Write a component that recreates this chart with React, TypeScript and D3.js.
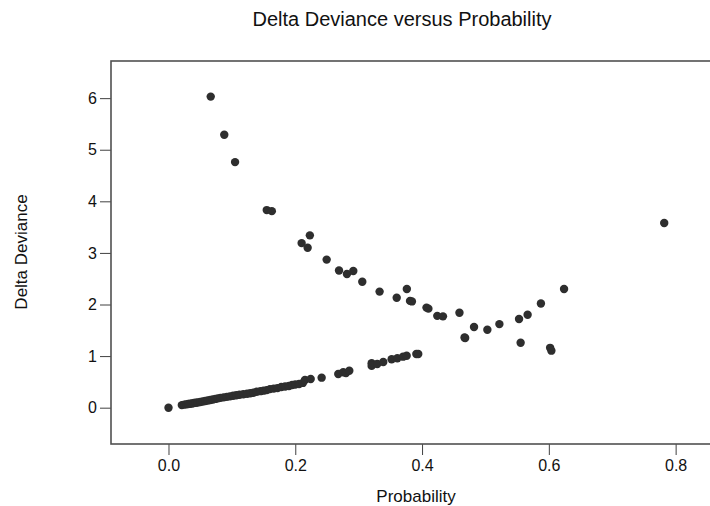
import React, { useRef, useEffect } from 'react';
import * as d3 from 'd3';

// observations with low fitted probability (lower branch)
const lowerProbability = [
  0.0, 0.021, 0.025, 0.028, 0.031, 0.034, 0.037, 0.04, 0.043, 0.046, 0.05,
  0.054, 0.058, 0.062, 0.066, 0.07, 0.074, 0.078, 0.082, 0.087, 0.092, 0.097,
  0.102, 0.107, 0.112, 0.118, 0.124, 0.129, 0.134, 0.139, 0.145, 0.15, 0.155,
  0.16, 0.166, 0.172, 0.178, 0.184, 0.19, 0.195, 0.2, 0.206, 0.212, 0.2153,
  0.2243, 0.2416, 0.2678, 0.2757, 0.28, 0.2852, 0.3205, 0.3205, 0.3293,
  0.3388, 0.352, 0.361, 0.37, 0.3757, 0.391, 0.394, 0.467, 0.468
];
const lowerDeviance = [
  0.0, 0.05, 0.06, 0.065, 0.07, 0.075, 0.08, 0.09, 0.095, 0.1, 0.11,
  0.12, 0.13, 0.14, 0.15, 0.16, 0.17, 0.18, 0.19, 0.2, 0.21, 0.22,
  0.23, 0.24, 0.25, 0.26, 0.27, 0.28, 0.29, 0.31, 0.32, 0.33, 0.34,
  0.36, 0.37, 0.38, 0.4, 0.41, 0.42, 0.44, 0.45, 0.46, 0.48, 0.537,
  0.557, 0.582, 0.653, 0.686, 0.67, 0.717, 0.861, 0.81, 0.847,
  0.886, 0.939, 0.958, 0.989, 1.008, 1.04, 1.04, 1.36, 1.35
];

// observations with high deviance (upper branch)
const upperProbability = [
  0.0666, 0.088, 0.105, 0.155, 0.163, 0.21, 0.2195, 0.223, 0.2495, 0.269,
  0.2815, 0.2915, 0.3057, 0.333, 0.36, 0.376, 0.381, 0.384, 0.407, 0.41,
  0.424, 0.433, 0.459, 0.482, 0.503, 0.522, 0.553, 0.5555, 0.5665, 0.5875,
  0.602, 0.604, 0.624, 0.782
];
const upperDeviance = [
  6.03, 5.29, 4.76, 3.83, 3.81, 3.19, 3.1, 3.34, 2.87, 2.66,
  2.59, 2.65, 2.44, 2.25, 2.13, 2.3, 2.07, 2.06, 1.94, 1.92,
  1.78, 1.77, 1.84, 1.565, 1.51, 1.62, 1.72, 1.26, 1.8, 2.02,
  1.16, 1.105, 2.3, 3.58
];

const xTicks = [0.0, 0.2, 0.4, 0.6, 0.8];
const yTicks = [0, 1, 2, 3, 4, 5, 6];

const W = 710;
const H = 506;
const frame = { left: 111, top: 61, bottom: 444, right: 720 };
const font = '"Liberation Sans", Arial, sans-serif';

function DevianceChart() {
  const ref = useRef<SVGSVGElement>(null);

  useEffect(() => {
    if (!ref.current) return;
    const svg = d3.select(ref.current);
    svg.selectAll('*').remove();

    const x = d3.scaleLinear().domain([-0.0907, 0.87]).range([frame.left, frame.right]);
    const y = d3.scaleLinear().domain([-0.704, 6.72]).range([frame.bottom, frame.top]);

    const pts = [
      ...lowerProbability.map((p, i) => ({ p, d: lowerDeviance[i] })),
      ...upperProbability.map((p, i) => ({ p, d: upperDeviance[i] }))
    ];

    // x axis
    const gx = svg.append('g')
      .attr('transform', `translate(0,${frame.bottom})`)
      .call(d3.axisBottom(x).tickValues(xTicks).tickFormat(d3.format('.1f')).tickSize(11).tickPadding(5));
    gx.select('.domain').remove();
    gx.selectAll('line').attr('stroke', '#404040');
    gx.selectAll('text').attr('font-size', 16).attr('font-family', font).attr('fill', '#111');

    // y axis
    const gy = svg.append('g')
      .attr('transform', `translate(${frame.left},0)`)
      .call(d3.axisLeft(y).tickValues(yTicks).tickFormat(d3.format('d')).tickSize(11).tickPadding(3));
    gy.select('.domain').remove();
    gy.selectAll('line').attr('stroke', '#404040');
    gy.selectAll('text').attr('font-size', 16).attr('font-family', font).attr('fill', '#111');

    // frame
    svg.append('rect')
      .attr('x', frame.left)
      .attr('y', frame.top)
      .attr('width', frame.right - frame.left)
      .attr('height', frame.bottom - frame.top)
      .attr('fill', 'none')
      .attr('stroke', '#505050')
      .attr('stroke-width', 1.6);

    svg.append('g')
      .selectAll('circle')
      .data(pts)
      .join('circle')
      .attr('cx', d => x(d.p))
      .attr('cy', d => y(d.d))
      .attr('r', 4.2)
      .attr('fill', '#2e2e2e');

    svg.append('text')
      .attr('x', 402)
      .attr('y', 26)
      .attr('text-anchor', 'middle')
      .attr('font-family', font)
      .attr('font-size', 20)
      .attr('fill', '#111')
      .text('Delta Deviance versus Probability');

    svg.append('text')
      .attr('x', 416)
      .attr('y', 502)
      .attr('text-anchor', 'middle')
      .attr('font-family', font)
      .attr('font-size', 17)
      .attr('fill', '#111')
      .text('Probability');

    svg.append('text')
      .attr('transform', 'translate(27,252) rotate(-90)')
      .attr('text-anchor', 'middle')
      .attr('font-family', font)
      .attr('font-size', 17)
      .attr('fill', '#111')
      .text('Delta Deviance');
  }, []);

  return (
    <svg
      ref={ref}
      width={W}
      height={H}
      style={{ position: 'absolute', left: 0, top: 0, background: '#fff' }}
    />
  );
}

export default function App() {
  return <DevianceChart />;
}
